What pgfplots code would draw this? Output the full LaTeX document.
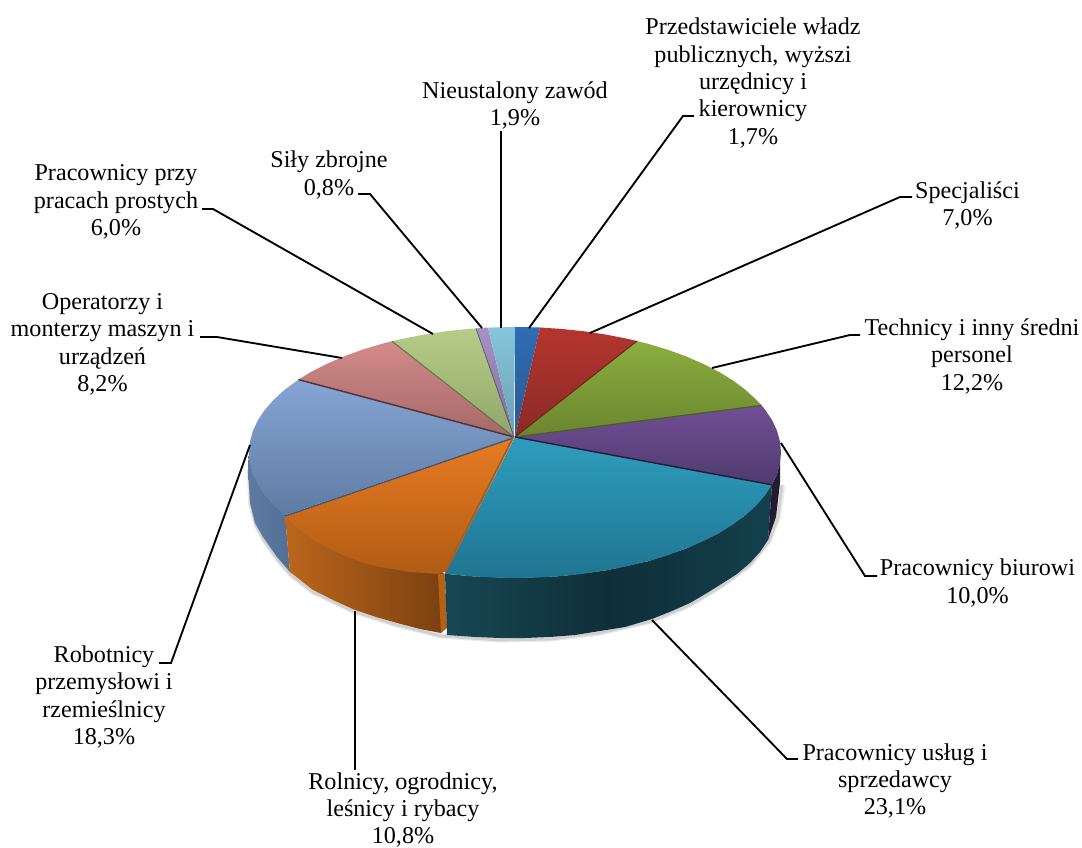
\documentclass[border=0pt]{standalone}
\usepackage{pgfplots}
\pgfplotsset{compat=1.18}
\usepackage{fontspec}
\setmainfont{Liberation Serif}

\definecolor{tealT}{HTML}{2F9DBF}\definecolor{tealB}{HTML}{1F7590}
\definecolor{orT}{HTML}{E87B22}\definecolor{orB}{HTML}{B05C14}
\definecolor{bluT}{HTML}{86A5D5}\definecolor{bluB}{HTML}{5F7BA3}
\definecolor{pkT}{HTML}{D48A8A}\definecolor{pkB}{HTML}{A56868}
\definecolor{lgT}{HTML}{B6CD88}\definecolor{lgB}{HTML}{8FA66A}
\definecolor{lvT}{HTML}{A892C5}\definecolor{lvB}{HTML}{7F6C9A}
\definecolor{lbT}{HTML}{86C5DC}\definecolor{lbB}{HTML}{6BA0B0}
\definecolor{dbT}{HTML}{2F6CB3}\definecolor{dbB}{HTML}{2A5A90}
\definecolor{rdT}{HTML}{B5352F}\definecolor{rdB}{HTML}{8A2A25}
\definecolor{gnT}{HTML}{8CAE3E}\definecolor{gnB}{HTML}{6B8530}
\definecolor{puT}{HTML}{714F96}\definecolor{puB}{HTML}{4F3A6E}
\definecolor{tsL}{HTML}{164854}\definecolor{tsM}{HTML}{0F2E38}\definecolor{tsR}{HTML}{13404D}
\definecolor{osL}{HTML}{BC661C}\definecolor{osR}{HTML}{7A400F}
\definecolor{bsL}{HTML}{5D7AA0}\definecolor{bsR}{HTML}{536F95}

\tikzset{
  lead/.style={black, line width=1.4pt},
  lab/.style={align=center, anchor=center, font=\fontsize{18.1}{20.6}\selectfont, inner sep=0pt},
}

\begin{document}
\begin{tikzpicture}
\begin{axis}[
  hide axis, scale only axis, width=811.5pt, height=636pt,
  xmin=0, xmax=1082, ymin=0, ymax=848, y dir=reverse,
]
% soft shadow under the rim
\addplot[gray, opacity=.15, line width=4pt] coordinates {(249,470)(251,505)(256,525)(264,540)(278,560)(291,575)(313,592)(355,612)(397,625)(441,636)(500,640)(550,639)(600,633)(652,621)(690,605)(723,585)(750,565)(769,541)(778,518)(783,485)};
\addplot[gray, opacity=.25, line width=2.2pt] coordinates {(249,470)(251,505)(256,525)(264,540)(278,560)(291,575)(313,592)(355,612)(397,625)(441,636)(500,640)(550,639)(600,633)(652,621)(690,605)(723,585)(750,565)(769,541)(778,518)(782,485)};

% sides
\addplot[draw=none, left color=bsL, right color=bsR] coordinates {(249,452.5)(248,467)(250,503)(255,523)(263,537)(277,557)(290,572)(285,515.3)(265,495.4)(253,474.3)};
\addplot[draw=none, left color=osL, right color=osR] coordinates {(285,515.3)(290,572)(313,590)(333,600)(355,610)(376,617)(397,623)(420,629)(441,633)(445,574)};
\addplot[draw=none, fill=orB!85!orT] coordinates {(438,574)(445,574)(447,628)(441,633)};
\addplot[draw=none, left color=tsL, right color=tsR, middle color=tsM] coordinates {(445,573.7)(447,635)(475,637)(500,638)(525,638)(550,637)(575,635)(600,631)(625,627)(652,619)(672,611)(690,603)(707,593)(723,583)(737,574)(750,563)(760,552)(768,540)(772,484.8)(745.4,515.3)(718.8,533.2)(686,548.6)(648,561.2)(606,570.4)(561.2,576.1)(515,578)(468.8,576.1)};
\addplot[draw=none, fill=black!55!puB] coordinates {(772,484.8)(777,474.3)(780,462)(780,483)(776,517)(768,540)};

% top faces
\addplot[draw=none, top color=tealT, bottom color=tealB] coordinates {(515,437)(772,484.8)(765,495.4)(756,505.6)(745.4,515.3)(733,524.5)(718.8,533.2)(703,541.2)(686,548.6)(667.7,555.3)(648,561.2)(627.5,566.2)(606,570.4)(584,573.7)(561.2,576.1)(538,577.5)(515,578)(492,577.5)(468.8,576.1)(445,573.7)};
\addplot[draw=none, top color=orT, bottom color=orB] coordinates {(513,438)(285,516)(300,530)(313,540)(330,549)(347,557)(364,563)(380,567)(410,572)(438,574)(445,572)};
\addplot[draw=none, top color=bluT, bottom color=bluB] coordinates {(514,437)(298.5,379.6)(284.6,389.8)(274,399.5)(265,409.6)(258,420)(253,430.7)(250,441.6)(249,452.5)(250,463.4)(253,474.3)(258,485)(265,495.4)(274,505.6)(284.6,515.3)};
\addplot[draw=none, top color=pkT, bottom color=pkB] coordinates {(514,437)(392,341.2)(382,343.8)(362.3,349.7)(344,356.4)(327,363.8)(311.2,371.8)(298.5,379.6)};
\addplot[draw=none, top color=lgT, bottom color=lgB] coordinates {(514,437)(476,328.4)(468.8,328.9)(446,331.3)(424,334.6)(402.5,338.8)(392,341.2)};
\addplot[draw=none, top color=lvT, bottom color=lvB] coordinates {(514,437)(488,327.6)(476,328.4)};
\addplot[draw=none, top color=lbT, bottom color=lbB] coordinates {(514,437)(515,327)(488,327.6)};
\addplot[draw=none, top color=dbT, bottom color=dbB] coordinates {(515,437)(540,327.5)(515,327)};
\addplot[draw=none, top color=rdT, bottom color=rdB] coordinates {(515,437)(637,341)(627.5,338.8)(606,334.6)(584,331.3)(561.2,328.9)(540,327.5)};
\addplot[draw=none, top color=gnT, bottom color=gnB] coordinates {(515,437)(761.6,405.4)(756,399.5)(745.4,389.8)(733,380.5)(718.8,371.8)(703,363.8)(686,356.4)(667.7,349.7)(648,343.8)(637,341)};
\addplot[draw=none, top color=puT, bottom color=puB] coordinates {(515,437)(772,484.8)(777,474.3)(780,463.4)(781,452.5)(780,441.6)(777,430.7)(772,420)(765,409.6)(761.6,405.4)};

% slice borders
\addplot[color=pkB!50!black, line width=1.1pt] coordinates {(514,437)(298.5,379.6)};
\addplot[color=bluB!70!black, line width=1.1pt] coordinates {(513,438)(285,516)};
\addplot[color=lgB!70!black, line width=.8pt] coordinates {(514,437)(392,341.2)};
\addplot[color=lvB!70!black, line width=.5pt] coordinates {(514,437)(476,328.4)};
\addplot[color=orB, line width=1.5pt] coordinates {(513,438)(445,572)};
\addplot[color=rdB!80!black, line width=.8pt] coordinates {(515,437)(637,341)};
\addplot[color=gnB!70!black, line width=.9pt] coordinates {(515,437)(761.6,405.4)};
\addplot[color=puB!50!black, line width=1.1pt] coordinates {(515,437)(772,484.8)};

% leaders
\addplot[lead] coordinates {(529,328)(683,116)(694,116)};
\addplot[lead] coordinates {(590,333)(900,197)(912,197)};
\addplot[lead] coordinates {(712,368)(850,335)(860,335)};
\addplot[lead] coordinates {(781,443)(865,576)(877,576)};
\addplot[lead] coordinates {(652,620)(787,759)(798,759)};
\addplot[lead] coordinates {(355,611)(355,770)};
\addplot[lead] coordinates {(250,445)(171,663)(159,663)};
\addplot[lead] coordinates {(342,358)(217,337)(200,337)};
\addplot[lead] coordinates {(433,334)(213,209)(202,209)};
\addplot[lead] coordinates {(482,328)(370,194)(358,194)};
\addplot[lead] coordinates {(501,328)(501,131)};

% labels
\node[lab] at (axis cs:753,83) {Przedstawiciele władz\\publicznych, wyższi\\urzędnicy i\\kierownicy\\1,7\%};
\node[lab] at (axis cs:967.5,205.5) {Specjaliści\\7,0\%};
\node[lab] at (axis cs:972,356) {Technicy i inny średni\\personel\\12,2\%};
\node[lab] at (axis cs:977.5,583) {Pracownicy biurowi\\10,0\%};
\node[lab] at (axis cs:895,781) {Pracownicy usług i\\sprzedawcy\\23,1\%};
\node[lab] at (axis cs:403,810) {Rolnicy, ogrodnicy,\\leśnicy i rybacy\\10,8\%};
\node[lab] at (axis cs:104,697) {Robotnicy\\przemysłowi i\\rzemieślnicy\\18,3\%};
\node[lab] at (axis cs:102.5,344.5) {Operatorzy i\\monterzy maszyn i\\urządzeń\\8,2\%};
\node[lab] at (axis cs:116,202) {Pracownicy przy\\pracach prostych\\6,0\%};
\node[lab] at (axis cs:329,175) {Siły zbrojne\\0,8\%};
\node[lab] at (axis cs:515,105.5) {Nieustalony zawód\\1,9\%};
\end{axis}
\pgfresetboundingbox
\path (current axis.south west) rectangle (current axis.north east);
\end{tikzpicture}
\end{document}
